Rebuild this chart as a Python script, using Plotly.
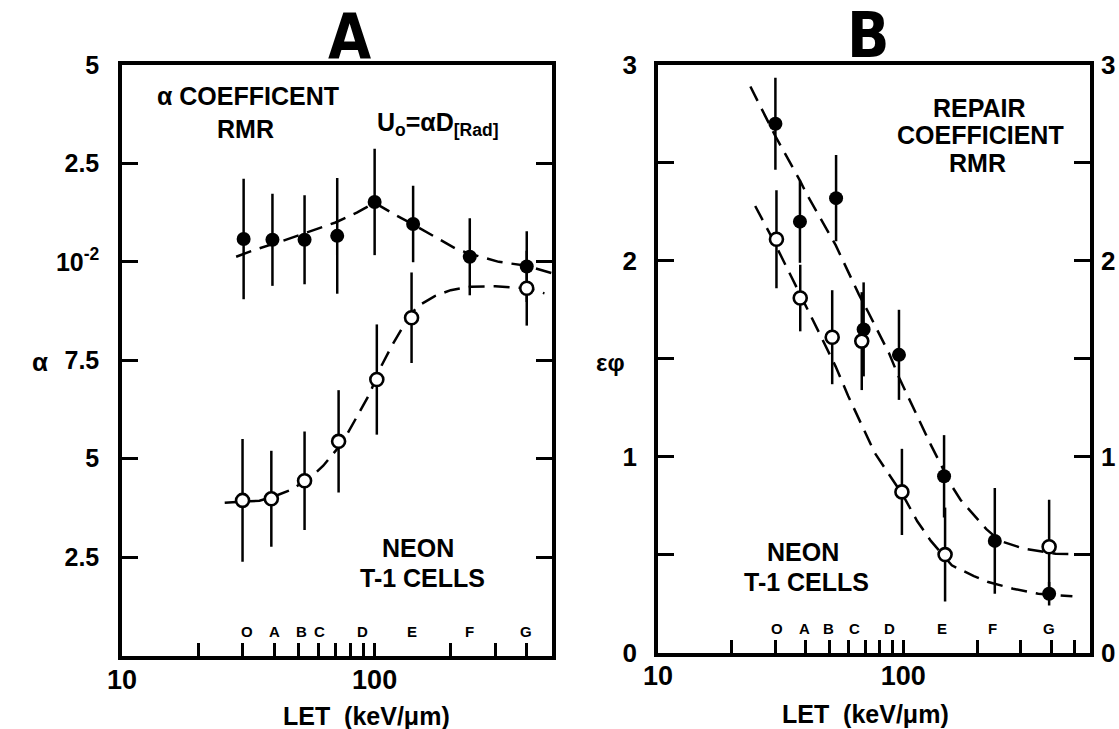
import numpy as np
import plotly.graph_objects as go

# ---------------- data ----------------
# Panel A : alpha coefficient (units of 1e-3), LET in keV/um
let_A_filled = [30.3, 39.4, 52.8, 71.1, 100, 142, 238, 400]
alpha_filled = [10.58, 10.56, 10.56, 10.66, 11.52, 10.96, 10.13, 9.88]
alpha_filled_err = [1.53, 1.17, 1.13, 1.47, 1.35, 0.97, 0.98, 0.90]

let_A_open = [30.0, 39.0, 52.8, 72.0, 102, 140, 400]
alpha_open = [3.94, 3.98, 4.44, 5.44, 7.01, 8.58, 9.33]
alpha_open_err = [1.56, 1.22, 1.25, 1.30, 1.40, 1.15, 0.95]

curveA_filled_let = [28.3, 34.4, 43.2, 50, 60, 70, 85, 100, 120, 142, 170, 210, 240, 310, 400, 505]
curveA_filled_val = [10.13, 10.33, 10.53, 10.68, 10.85, 11.0, 11.25, 11.5, 11.2, 10.95, 10.66, 10.33, 10.2, 10.0, 9.9, 9.71]
curveA_open_let = [25.5, 30, 35, 41.1, 47.5, 57.7, 62.6, 74.6, 81, 85, 96, 103.3, 117, 133, 147, 173, 200, 240, 300, 400, 470]
curveA_open_val = [3.88, 3.9, 3.93, 4.07, 4.23, 4.61, 4.82, 5.41, 5.83, 6.04, 6.67, 7.2, 7.87, 8.48, 8.86, 9.13, 9.28, 9.37, 9.38, 9.33, 9.2]

# Panel B : repair coefficient
let_B_filled = [30.1, 37.9, 53.2, 68.9, 96, 146.6, 236, 393]
eps_filled = [2.70, 2.20, 2.32, 1.65, 1.52, 0.90, 0.57, 0.30]
eps_filled_err = [0.235, 0.21, 0.22, 0.24, 0.23, 0.21, 0.27, 0.06]

let_B_open = [30.4, 38.0, 51.3, 67.7, 98.7, 148, 393]
eps_open = [2.11, 1.81, 1.61, 1.59, 0.82, 0.50, 0.54]
eps_open_err = [0.25, 0.17, 0.24, 0.25, 0.22, 0.24, 0.24]

curveB_upper_let = [23.8, 30, 37.9, 40.4, 53, 65.8, 71.8, 87.3, 96.4, 123.3, 129.5, 157.6, 171, 218, 248, 310, 418, 564]
curveB_upper_val = [2.89, 2.64, 2.41, 2.34, 2.08, 1.83, 1.74, 1.53, 1.40, 1.11, 1.06, 0.85, 0.78, 0.63, 0.57, 0.53, 0.504, 0.50]
curveB_lower_let = [24.9, 29.1, 45.5, 53, 59.6, 67, 76.4, 100, 114, 129.5, 157.6, 194, 222, 280, 355, 489]
curveB_lower_val = [2.28, 2.12, 1.63, 1.46, 1.31, 1.175, 1.02, 0.80, 0.67, 0.57, 0.445, 0.39, 0.36, 0.326, 0.30, 0.287]

ion_letters = ["O", "A", "B", "C", "D", "E", "F", "G"]
letter_let_A = [31.2, 40.3, 51.2, 60.6, 89.3, 140.6, 238, 398]
letter_let_B = [30.5, 39.5, 49.4, 63.2, 88.1, 143.6, 232, 393]

xtick_major = [10, 100]
xtext_major = ["10", "100"]
xtick_minor_A = [20, 30, 40, 50, 60, 70, 80, 90, 200, 300, 400]
xtick_minor_B = [20, 30, 40, 50, 60, 70, 80, 90, 200, 300, 400, 500]
ytick_A = [2.5, 5, 7.5, 10, 12.5, 15]
ytext_A = ["2.5", "5", "7.5", "10<sup>-2</sup>", "2.5", "5"]
ytick_B = [0, 1, 2, 3]
ytext_B = ["0", "1", "2", "3"]
ytick_minor_B = [0.5, 1.5, 2.5]

# ---------------- figure ----------------
W, H = 1119, 729
def px(x):
    return x / W
def py(y):
    return 1 - y / H

FONT = "Liberation Sans, Arial, sans-serif"
TFONT = "DejaVu Sans Condensed, Liberation Sans Narrow, Liberation Sans, sans-serif"
BLACK = "black"

fig = go.Figure()

dash = "16px,9px"

def add_curve(xv, yv, xa, ya):
    fig.add_trace(go.Scatter(x=xv, y=yv, mode="lines", xaxis=xa, yaxis=ya,
                             line=dict(color=BLACK, width=2.5, dash=dash),
                             showlegend=False, hoverinfo="skip"))

def add_points(xv, yv, err, xa, ya, filled):
    fig.add_trace(go.Scatter(
        x=xv, y=yv, mode="markers", xaxis=xa, yaxis=ya,
        error_y=dict(type="data", array=err, visible=True, width=0,
                     thickness=2.5, color=BLACK),
        marker=dict(size=14 if filled else 13, symbol="circle",
                    color=BLACK if filled else "white",
                    line=dict(color=BLACK, width=0 if filled else 2.6)),
        showlegend=False, hoverinfo="skip"))

add_curve(curveA_filled_let, curveA_filled_val, "x", "y")
add_curve(curveA_open_let, curveA_open_val, "x", "y")
add_points(let_A_filled, alpha_filled, alpha_filled_err, "x", "y", True)
add_points(let_A_open, alpha_open, alpha_open_err, "x", "y", False)

add_curve(curveB_upper_let, curveB_upper_val, "x2", "y2")
add_curve(curveB_lower_let, curveB_lower_val, "x2", "y2")
add_points(let_B_filled, eps_filled, eps_filled_err, "x2", "y2", True)
add_points(let_B_open, eps_open, eps_open_err, "x2", "y2", False)

# invisible trace so the right-hand label axis of panel B is drawn
fig.add_trace(go.Scatter(x=[100], y=[1], xaxis="x2", yaxis="y3", mode="markers",
                         marker=dict(opacity=0), showlegend=False, hoverinfo="skip"))

axis_common = dict(showline=True, linewidth=3.5, linecolor=BLACK, showgrid=False,
                   zeroline=False, ticks="inside", tickwidth=3, tickcolor=BLACK,
                   automargin=False)

def minor(vals, length):
    return dict(tickmode="array", tickvals=vals, ticks="inside", ticklen=length,
                tickwidth=3, tickcolor=BLACK, showgrid=False)

fig.update_layout(
    template="none",
    width=W, height=H, autosize=False,
    margin=dict(l=0, r=0, t=0, b=0, pad=0),
    paper_bgcolor="white", plot_bgcolor="white",
    font=dict(family=FONT, color=BLACK, size=24, weight="bold"),
    xaxis=dict(axis_common, type="log", range=[1, 2.702], domain=[px(122), px(552)],
               anchor="y", mirror=True, ticklen=13, tickvals=xtick_major, ticktext=xtext_major,
               minor=minor(xtick_minor_A, 13),
               tickfont=dict(size=27, family=FONT, weight="bold"), ticklabelstandoff=-3),
    yaxis=dict(axis_common, range=[0, 15], domain=[py(655.5), py(65)], anchor="x",
               mirror="ticks", ticklen=16, tickvals=ytick_A, ticktext=ytext_A,
               tickfont=dict(size=25, family=FONT, weight="bold"), ticklabelstandoff=14),
    xaxis2=dict(axis_common, type="log", range=[1, 2.761], domain=[px(658), px(1090)],
                anchor="y2", mirror=True, ticklen=13, tickvals=xtick_major, ticktext=xtext_major,
                minor=minor(xtick_minor_B, 13),
                tickfont=dict(size=27, family=FONT, weight="bold"), ticklabelstandoff=-4),
    yaxis2=dict(axis_common, range=[0, 3], domain=[py(652.5), py(65)], anchor="x2",
                mirror="ticks", ticklen=16, tickvals=ytick_B, ticktext=ytext_B,
                minor=minor(ytick_minor_B, 16),
                tickfont=dict(size=26, family=FONT, weight="bold"), ticklabelstandoff=12),
    yaxis3=dict(range=[0, 3], overlaying="y2", anchor="x2", side="right",
                showline=False, showgrid=False, zeroline=False, ticks="",
                automargin=False, tickvals=ytick_B, ticktext=ytext_B,
                tickfont=dict(size=26, family=FONT, weight="bold"), ticklabelstandoff=10),
)

ann = []
def label(text, x, y, size=24, xanchor="center", family=FONT, **kw):
    ann.append(dict(text=text, x=px(x), y=py(y), xref="paper", yref="paper",
                    xanchor=xanchor, yanchor="middle", showarrow=False,
                    font=dict(size=size, family=family, color=BLACK, weight="bold"), **kw))

label("A", 349, 36, size=62, family=TFONT)
label("B", 868, 35, size=62, family=TFONT)
label("α COEFFICENT", 248, 96, size=25)
label("RMR", 245, 129, size=25)
label("U<sub>o</sub>=αD<sub>[Rad]</sub>", 375, 124, size=25, xanchor="left")
label("NEON", 418, 548, size=25)
label("T-1 CELLS", 423, 578, size=25)
label("REPAIR", 979, 108, size=25)
label("COEFFICIENT", 980, 135, size=25)
label("RMR", 977, 163, size=25)
label("NEON", 803, 552, size=25)
label("T-1 CELLS", 806, 582, size=25)
label("α", 40, 362, size=26)
label("εφ", 610, 362, size=24)
label("LET  (keV/μm)", 366, 716, size=25)
label("LET  (keV/μm)", 865, 714, size=25)

for t, v in zip(ion_letters, letter_let_A):
    ann.append(dict(text=t, x=np.log10(v), y=py(631), xref="x", yref="paper",
                    showarrow=False, xanchor="center", yanchor="middle",
                    font=dict(size=15, family=FONT, color=BLACK, weight="bold")))
for t, v in zip(ion_letters, letter_let_B):
    ann.append(dict(text=t, x=np.log10(v), y=py(628), xref="x2", yref="paper",
                    showarrow=False, xanchor="center", yanchor="middle",
                    font=dict(size=15, family=FONT, color=BLACK, weight="bold")))

fig.update_layout(annotations=ann)

fig.write_html("out.html", config={"displayModeBar": False},
               post_script="document.body.style.margin='0';document.body.style.overflow='hidden';")
